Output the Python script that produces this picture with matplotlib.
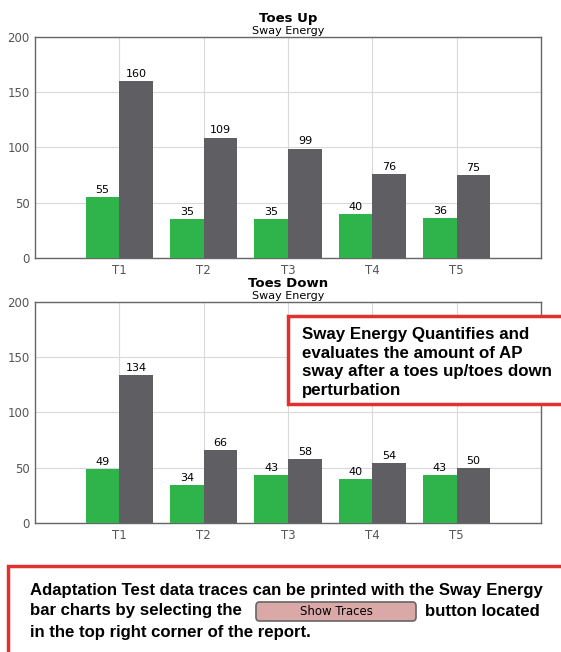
import matplotlib.pyplot as plt
from matplotlib.patches import Rectangle, FancyBboxPatch
import numpy as np

categories = ['T1', 'T2', 'T3', 'T4', 'T5']
up_green = [55, 35, 35, 40, 36]
up_gray = [160, 109, 99, 76, 75]
down_green = [49, 34, 43, 40, 43]
down_gray = [134, 66, 58, 54, 50]

green = '#2fb34b'
gray = '#5f5f63'

fig = plt.figure(figsize=(5.61, 6.52), dpi=100)


def bar_panel(rect, g, k, title):
    ax = fig.add_axes(rect)
    x = np.arange(1, len(categories) + 1)
    ax.bar(x - 0.2, g, width=0.4, color=green, zorder=3)
    ax.bar(x + 0.2, k, width=0.4, color=gray, zorder=3)
    for xi, v in zip(x - 0.2, g):
        ax.text(xi, v + 2, str(v), ha='center', va='bottom', fontsize=8)
    for xi, v in zip(x + 0.2, k):
        ax.text(xi, v + 2, str(v), ha='center', va='bottom', fontsize=8)
    ax.set_xlim(0, 6)
    ax.set_ylim(0, 200)
    ax.set_xticks(x)
    ax.set_xticklabels(categories)
    ax.set_yticks([0, 50, 100, 150, 200])
    ax.grid(True, color='#d9d9d9', lw=0.8, zorder=0)
    ax.tick_params(length=0, labelsize=8.5, labelcolor='#555555', pad=4)
    for s in ax.spines.values():
        s.set_color('#666666')
        s.set_linewidth(1)
    ax.text(0.5, 1.055, title, transform=ax.transAxes, ha='center',
            va='bottom', fontsize=9.5, fontweight='bold')
    ax.text(0.5, 1.005, 'Sway Energy', transform=ax.transAxes, ha='center',
            va='bottom', fontsize=8)
    return ax


bar_panel([0.0624, 0.6043, 0.902, 0.339], up_green, up_gray, 'Toes Up')
bar_panel([0.0624, 0.1979, 0.902, 0.339], down_green, down_gray, 'Toes Down')

# red note box on the lower chart
fig.patches.append(Rectangle((288 / 561, 1 - 404 / 652), 0.6, 88 / 652,
                             transform=fig.transFigure, fill=True,
                             facecolor='white', edgecolor='#e03030', lw=2.5,
                             zorder=5))
fig.text(302 / 561, 1 - 327 / 652,
         'Sway Energy Quantifies and\nevaluates the amount of AP\n'
         'sway after a toes up/toes down\nperturbation',
         ha='left', va='top', fontsize=12.2, fontweight='bold',
         family='Liberation Sans', linespacing=1.3, zorder=6)

# bottom note box
fig.patches.append(Rectangle((8 / 561, -0.05), 1.0, 0.05 + 86 / 652,
                             transform=fig.transFigure, fill=False,
                             edgecolor='#e03030', lw=2.5, zorder=5))
note_kw = dict(ha='left', va='center', fontsize=12.1, fontweight='bold',
               family='Liberation Sans')
fig.text(30 / 561, 1 - 590 / 652,
         'Adaptation Test data traces can be printed with the Sway Energy',
         **note_kw)
fig.text(30 / 561, 1 - 611 / 652, 'bar charts by selecting the', **note_kw)
fig.text(425 / 561, 1 - 611 / 652, 'button located', **note_kw)
fig.text(30 / 561, 1 - 633 / 652, 'in the top right corner of the report.',
         **note_kw)
fig.patches.append(FancyBboxPatch((256 / 561, 1 - 621 / 652), 160 / 561, 19 / 652,
                                  boxstyle='round,pad=0,rounding_size=0.006',
                                  transform=fig.transFigure,
                                  facecolor='#dba8a8', edgecolor='#666666',
                                  lw=1.2, zorder=5))
fig.text(336 / 561, 1 - 611.5 / 652, 'Show Traces', ha='center', va='center',
         fontsize=8.5, zorder=6)

fig.savefig('out.png', dpi=100)
